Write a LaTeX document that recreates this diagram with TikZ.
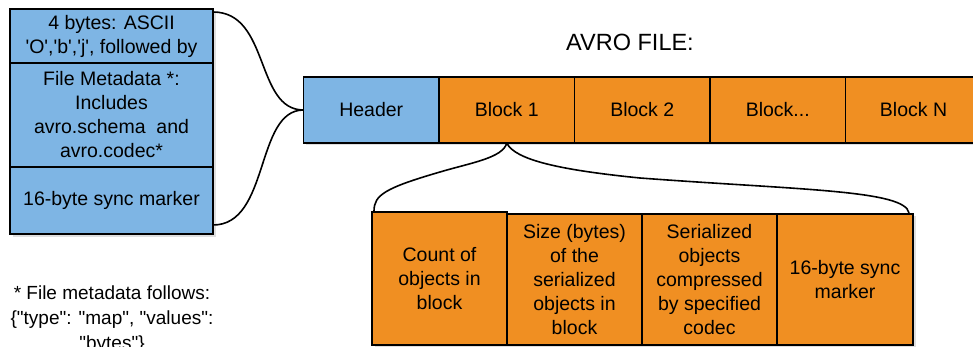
\documentclass[tikz,border=0pt]{standalone}
\usepackage{fontspec}
\newfontfamily\avfont{Liberation Sans}
\usetikzlibrary{shadows,calc}

\definecolor{hdrblue}{RGB}{126,181,228}
\definecolor{blkorange}{RGB}{240,143,34}

\tikzset{
  cell/.style={draw=black, line width=1.6pt, inner sep=0pt, outer sep=0pt,
    anchor=north west, align=center,
    font=\avfont\fontsize{19.5}{24}\selectfont,
    drop shadow={shadow xshift=2.5pt, shadow yshift=-2.5pt, opacity=0.25}},
  bluecell/.style={cell, fill=hdrblue},
  orangecell/.style={cell, fill=blkorange},
  brace/.style={draw=black, line width=1.6pt}
}

\begin{document}
\begin{tikzpicture}[x=1pt, y=-1pt]
  \useasboundingbox (0,0) rectangle (973,347);
  \clip (0,0) rectangle (973,347);

  % header layout stack
  \node[bluecell, minimum width=203pt, minimum height=54pt] (magic) at (10,9)
    {4 bytes: ASCII\\\textquotesingle O\textquotesingle,\textquotesingle b\textquotesingle,\textquotesingle j\textquotesingle, followed by};
  \node[bluecell, minimum width=203pt, minimum height=104pt] (meta) at (10,63)
    {File Metadata *:\\Includes\\avro.schema\ \ and\\avro.codec*};
  \node[bluecell, minimum width=203pt, minimum height=67pt] (hsync) at (10,167)
    {16-byte sync marker};

  % file title
  \node[font=\avfont\fontsize{23.5}{27}\selectfont] (title) at (630,42) {AVRO FILE:};

  % file bar
  \node[bluecell, minimum width=135.5pt, minimum height=66pt] (hdr) at (303.5,77) {Header};
  \node[orangecell, minimum width=135.5pt, minimum height=66pt] (b1) at (439,77) {Block 1};
  \node[orangecell, minimum width=135.5pt, minimum height=66pt] (b2) at (574.5,77) {Block 2};
  \node[orangecell, minimum width=135.5pt, minimum height=66pt] (bdots) at (710,77) {Block...};
  \node[orangecell, minimum width=136pt, minimum height=66pt] (bn) at (845.5,77) {Block N};

  % block layout
  \node[orangecell, minimum width=135pt, minimum height=133pt] (cnt) at (372,212)
    {Count of\\objects in\\block};
  \node[orangecell, minimum width=135pt, minimum height=131pt] (size) at (507,214)
    {Size (bytes)\\of the\\serialized\\objects in\\block};
  \node[orangecell, minimum width=135pt, minimum height=131pt] (ser) at (642,214)
    {Serialized\\objects\\compressed\\by specified\\codec};
  \node[orangecell, minimum width=136pt, minimum height=131pt] (bsync) at (777,214)
    {16-byte sync\\marker};

  % footnote
  \node[anchor=north, align=center, inner sep=0pt,
        font=\avfont\fontsize{19}{25}\selectfont] (note) at (112,286)
    {* File metadata follows:\\\{"type": "map", "values":\\"bytes"\}};

  % brace from header stack to the Header cell
  \coordinate (hbTop) at ($(magic.north east)+(0,3)$);
  \coordinate (hbBot) at ($(hsync.south east)+(0,-9)$);
  \draw[brace] (hbTop) .. controls (270,12) and (255,110) .. (hdr.west);
  \draw[brace] (hbBot) .. controls (270,225) and (255,110) .. (hdr.west);

  % brace from Block 1 to the block layout
  \coordinate (bbL) at ($(cnt.north west)+(2,-1)$);
  \coordinate (bbR) at ($(bsync.north east)+(-4,-1)$);
  \coordinate (bbLm) at (440,172);
  \coordinate (bbRm) at (640,178);
  \draw[brace] (b1.south) .. controls (503,158) and (470,163) .. (bbLm)
                          .. controls (385,188) and (374,195) .. (bbL);
  \draw[brace] (b1.south) .. controls (515,160) and (560,170) .. (bbRm)
                          .. controls (800,190) and (905,190) .. (bbR);
\end{tikzpicture}
\end{document}
